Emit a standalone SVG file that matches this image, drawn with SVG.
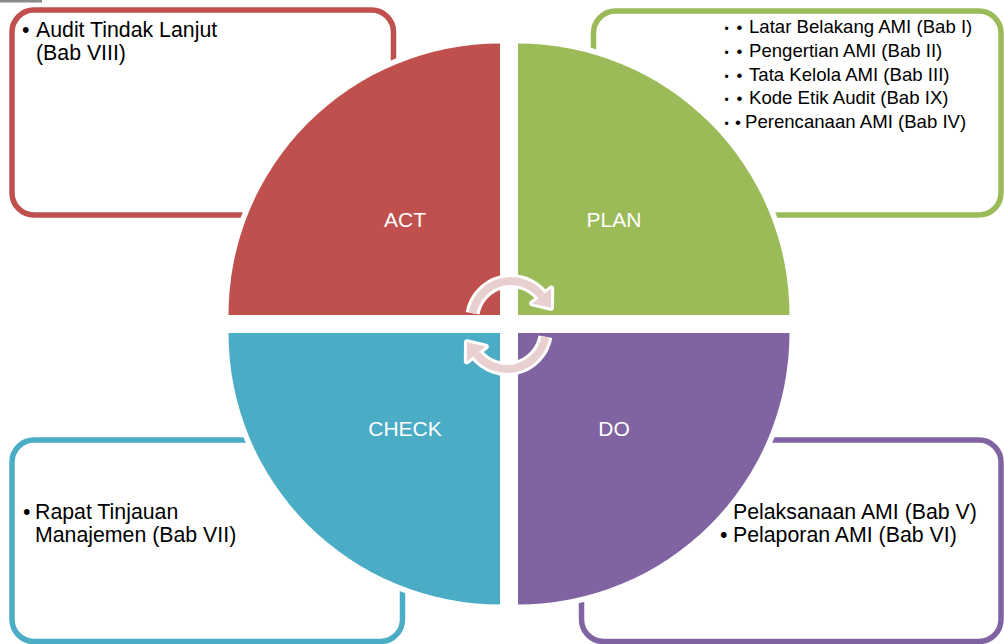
<svg xmlns="http://www.w3.org/2000/svg" width="1004" height="644" viewBox="0 0 1004 644">
<style>
.box{fill:#FFFFFF;stroke-width:5.5}
.q{stroke:#FFFFFF;stroke-width:11;paint-order:stroke}
.lbl{font-family:"Liberation Sans",Arial,sans-serif;font-size:21px;fill:#FFFFFF;text-anchor:middle}
.t{font-family:"Liberation Sans",Arial,sans-serif;font-size:21.3px;fill:#000000}
.g{font-family:"Liberation Sans",Arial,sans-serif;font-size:18.6px;fill:#000000}
.b1{font-size:12px}
.b2{font-size:17px}
.arcw{fill:none;stroke:#FFFFFF;stroke-width:14}
.arcp{fill:none;stroke:#E8D0D1;stroke-width:8}
</style>
<defs>
<g id="cyc">
<path class="arcw" d="M472.6,313.2 A39,39 0 0 1 541.7,296.0"/>
<polygon points="551.2,288.6 532.2,303.4 551.0,307.8" fill="#FFFFFF" stroke="#FFFFFF" stroke-width="6" stroke-linejoin="round"/>
<path class="arcp" d="M472.6,313.2 A39,39 0 0 1 541.7,296.0"/>
<polygon points="551.2,288.6 532.2,303.4 551.0,307.8" fill="#E8D0D1"/>
</g>
</defs>
<rect x="0" y="0" width="42" height="2.5" fill="#8A8A8A"/>
<g id="box-act">
<rect class="box" x="12" y="10" width="381.5" height="205" rx="22" stroke="#C0504D"/>
<text class="t"><tspan x="22" y="37">•</tspan><tspan x="36" y="37">Audit Tindak Lanjut</tspan><tspan x="36" y="60">(Bab VIII)</tspan></text>
</g>
<g id="box-plan">
<rect class="box" x="593.5" y="11" width="407.5" height="204" rx="22" stroke="#9BBB59"/>
<text class="g" y="33"><tspan class="b1" x="724.5">•</tspan><tspan class="b2" x="736.5">•</tspan><tspan x="749">Latar Belakang AMI (Bab I)</tspan></text>
<text class="g" y="57"><tspan class="b1" x="724.5">•</tspan><tspan class="b2" x="736.5">•</tspan><tspan x="749">Pengertian AMI (Bab II)</tspan></text>
<text class="g" y="80.5"><tspan class="b1" x="724.5">•</tspan><tspan class="b2" x="736.5">•</tspan><tspan x="749">Tata Kelola AMI (Bab III)</tspan></text>
<text class="g" y="104"><tspan class="b1" x="724.5">•</tspan><tspan class="b2" x="736.5">•</tspan><tspan x="749">Kode Etik Audit (Bab IX)</tspan></text>
<text class="g" y="128"><tspan class="b1" x="724.5">•</tspan><tspan class="b2" x="735">•</tspan><tspan x="745">Perencanaan AMI (Bab IV)</tspan></text>
</g>
<g id="box-check">
<rect class="box" x="12" y="440" width="390.5" height="201.5" rx="22" stroke="#4BACC6"/>
<text class="t"><tspan x="23" y="519">•</tspan><tspan x="35" y="519">Rapat Tinjauan</tspan><tspan x="35" y="542">Manajemen (Bab VII)</tspan></text>
</g>
<g id="box-do">
<rect class="box" x="581.5" y="440" width="419.5" height="201.5" rx="22" stroke="#8064A2"/>
<text class="t"><tspan x="733" y="519">Pelaksanaan AMI (Bab V)</tspan><tspan x="720" y="542">•</tspan><tspan x="733" y="542">Pelaporan AMI (Bab VI)</tspan></text>
</g>
<g id="act">
<path class="q" fill="#C0504D" d="M500,315 L228.5,315 A271.5,271.5 0 0 1 500,43.5 Z"/>
<text class="lbl" x="405" y="227">ACT</text>
</g>
<g id="plan">
<path class="q" fill="#9BBB59" d="M518,315 L518,43.5 A271.5,271.5 0 0 1 789.5,315 Z"/>
<text class="lbl" x="614" y="227">PLAN</text>
</g>
<g id="check">
<path class="q" fill="#4BACC6" d="M500,333 L500,604.5 A271.5,271.5 0 0 1 228.5,333 Z"/>
<text class="lbl" x="405" y="436">CHECK</text>
</g>
<g id="do">
<path class="q" fill="#8064A2" d="M518,333 L789.5,333 A271.5,271.5 0 0 1 518,604.5 Z"/>
<text class="lbl" x="614" y="436">DO</text>
</g>
<g id="connectors">
<use href="#cyc"/>
<use href="#cyc" transform="rotate(180 509 325)"/>
</g>
</svg>
